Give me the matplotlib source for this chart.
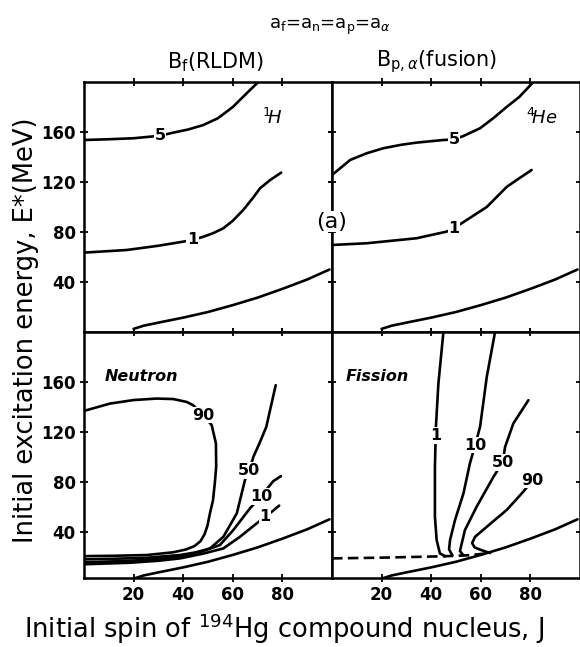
#!/usr/bin/env python3

import matplotlib
matplotlib.use('Agg')
import matplotlib.pyplot as plt

################################################################################

# yrast-like boundary, drawn in every panel
yrast_J = [20, 24, 30, 40, 50, 60, 70, 80, 90, 99]
yrast_E = [2.5, 5, 7.5, 11.5, 16, 21.5, 27.5, 34.5, 42, 50]

# upper left, 1H
h5_J = [0, 10, 20, 30.6, 36, 42, 48, 54, 60, 65.6, 70.3, 71]
h5_E = [153.6, 154.2, 155, 157, 159.5, 162, 165.5, 171, 180, 191, 200, 202]
h1_J = [0, 17.2, 30, 40, 43.8, 48.1, 52, 56.2, 60, 64.2, 68, 71, 75, 79.5]
h1_E = [63.5, 65.6, 69, 72.3, 73.6, 76.2, 79, 83, 89, 97.6, 107, 115, 121.5, 127.5]

# upper right, 4He
he5_J = [0, 3, 7.3, 14, 20.7, 28, 34.1, 44.9, 49.2, 53, 59.7, 65, 70.4, 75.5, 81.2, 82]
he5_E = [125.6, 130.5, 137.6, 143, 147, 149.8, 151.5, 153.6, 154, 156.8, 163, 171, 180, 188, 200, 202]
he1_J = [0, 14, 34.1, 46.2, 49.2, 54.3, 62.4, 70.4, 75.5, 80.5]
he1_E = [69.6, 71, 75, 80.3, 83, 89.6, 100, 116, 123, 129.6]

# lower left, neutron
n90_J = [0, 10.5, 20, 29.3, 36, 41.4, 44, 48.1, 51.5, 53.2, 53.3, 52.8, 52, 50.8, 49.8, 48.6, 47, 44.5, 41, 36, 25.3, 12, 0]
n90_E = [136.8, 142.7, 145.5, 146.7, 146.3, 144, 141.4, 133.4, 125.4, 110.7, 92, 80, 65, 55, 45, 38, 32.5, 28.5, 25.8, 23.6, 21.4, 20.8, 20.5]
n50_J = [0, 12, 25.3, 38.7, 45, 50.8, 56.2, 61.6, 64.9, 66.6, 68.3, 71, 73.5, 77.3]
n50_E = [17.9, 18.4, 19.2, 21.4, 23.5, 26.7, 36, 54.7, 81.4, 89, 100, 112, 124, 157.4]
n10_J = [0, 18.5, 30, 38.7, 48, 54.8, 60.2, 66.9, 71.4, 76.3, 79.4]
n10_E = [15.5, 16.8, 18.3, 20, 24.5, 29.4, 41.4, 58.7, 68.5, 80.5, 84.6]
n1_J = [0, 18.5, 30, 38.7, 48, 56.2, 62.9, 69.6, 73, 76, 78.7]
n1_E = [14, 15.2, 16.8, 18.7, 22.5, 26.7, 36, 46.7, 52, 56.5, 61]

# lower right, fission
f1_J = [45.6, 43.5, 42.2, 41.5, 41.5, 41.9, 42.9, 44.9, 45]
f1_E = [20.5, 22.7, 33.4, 52, 92, 124, 158.7, 199.5, 202]
f10_J = [48.5, 47.2, 47.6, 49.6, 53, 55.6, 57.7, 59.7, 62.4, 65.7, 65.9]
f10_E = [21.2, 26, 33.4, 49.4, 70.7, 94.7, 109.4, 124, 164, 199.5, 202]
f50_J = [52.9, 51.6, 52, 53.6, 58.3, 65.1, 68.8, 69.8, 73.1, 79.2]
f50_E = [21.4, 24.5, 28, 41.4, 60, 84, 95.5, 108, 126.7, 145.4]
f90_J = [63.7, 60, 57.5, 56.5, 57.7, 62.4, 70.4, 77.1, 80.9]
f90_E = [23, 25.5, 27.5, 31, 36, 44, 57.4, 72, 81.4]
fdash_J = [0, 20, 45, 55, 62.4]
fdash_E = [18.7, 19.3, 20.4, 21.2, 22.7]

x_ticks = [20, 40, 60, 80]
y_ticks = [40, 80, 120, 160]

################################################################################

W, H = 580, 647

def rect(x0, y0, x1, y1):
	'''pixel box (top-left origin) to figure fraction'''
	return [x0 / W, 1 - y1 / H, (x1 - x0) / W, (y1 - y0) / H]

def setup(ax, ylim, xlabels, ylabels):
	ax.set_xlim(0, 100)
	ax.set_ylim(*ylim)
	ax.set_xticks(x_ticks)
	ax.set_yticks(y_ticks)
	ax.tick_params(direction = 'inout', length = 6, width = 1.3,
		top = True, bottom = True, left = True, right = True,
		labelbottom = xlabels, labelleft = ylabels,
		labelsize = 12, pad = 3)
	for lab in ax.get_xticklabels() + ax.get_yticklabels():
		lab.set_fontweight('bold')
	for s in ax.spines.values():
		s.set_linewidth(1.8)

def curve(ax, J, E, **kw):
	ax.plot(J, E, color = 'k', linewidth = 1.9, solid_capstyle = 'round', **kw)

def tag(ax, x, y, s):
	ax.text(x, y, s, ha = 'center', va = 'center', fontsize = 11.5, fontweight = 'bold',
		bbox = dict(fc = 'white', ec = 'none', pad = 0.6), zorder = 5)

plt.rcParams['font.family'] = 'DejaVu Sans'
plt.rcParams['mathtext.fontset'] = 'dejavusans'

fig = plt.figure(figsize = (W / 100, H / 100), dpi = 100)
ax_ul = fig.add_axes(rect(84, 82, 332, 332))
ax_ur = fig.add_axes(rect(332, 82, 580, 332))
ax_ll = fig.add_axes(rect(84, 332, 332, 578))
ax_lr = fig.add_axes(rect(332, 332, 580, 578))

setup(ax_ul, (0, 200), False, True)
setup(ax_ur, (0, 200), False, False)
setup(ax_ll, (3, 200), True, True)
setup(ax_lr, (3, 200), True, False)

for ax in [ax_ul, ax_ur, ax_ll, ax_lr]:
	curve(ax, yrast_J, yrast_E)

# upper left
curve(ax_ul, h5_J, h5_E)
curve(ax_ul, h1_J, h1_E)
tag(ax_ul, 30.6, 157, '5')
tag(ax_ul, 43.8, 73.6, '1')
ax_ul.text(75.8, 171, r'$^{1}\!\mathit{H}$', fontsize = 13, ha = 'center', va = 'center')

# upper right
curve(ax_ur, he5_J, he5_E)
curve(ax_ur, he1_J, he1_E)
tag(ax_ur, 49.2, 154, '5')
tag(ax_ur, 49.2, 83, '1')
ax_ur.text(84.5, 171, r'$^{4}\!\mathit{He}$', fontsize = 13, ha = 'center', va = 'center')

# lower left
curve(ax_ll, n90_J, n90_E)
curve(ax_ll, n50_J, n50_E)
curve(ax_ll, n10_J, n10_E)
curve(ax_ll, n1_J, n1_E)
tag(ax_ll, 48.1, 133.4, '90')
tag(ax_ll, 66.6, 89, '50')
tag(ax_ll, 71.4, 68.5, '10')
tag(ax_ll, 73, 52, '1')
ax_ll.text(8.5, 164.5, 'Neutron', fontsize = 11.5, fontweight = 'bold', style = 'italic',
	ha = 'left', va = 'center')

# lower right
curve(ax_lr, f1_J, f1_E)
curve(ax_lr, f10_J, f10_E)
curve(ax_lr, f50_J, f50_E)
curve(ax_lr, f90_J, f90_E)
ax_lr.plot(fdash_J, fdash_E, color = 'k', linewidth = 1.9, dashes = (4, 2))
tag(ax_lr, 41.7, 117, '1')
tag(ax_lr, 57.7, 109.4, '10')
tag(ax_lr, 68.8, 95.5, '50')
tag(ax_lr, 80.9, 81.4, '90')
ax_lr.text(5.5, 164, 'Fission', fontsize = 11.5, fontweight = 'bold', style = 'italic',
	ha = 'left', va = 'center')

# titles and axis labels
fig.text(330 / W, 1 - 27 / H, r'a$_\mathrm{f}$=a$_\mathrm{n}$=a$_\mathrm{p}$=a$_\alpha$',
	fontsize = 13, ha = 'center', va = 'center')
fig.text(215 / W, 1 - 62 / H, r'B$_\mathrm{f}$(RLDM)', fontsize = 15, ha = 'center', va = 'center')
fig.text(437 / W, 1 - 62 / H, r'B$_{\mathrm{p},\alpha}$(fusion)', fontsize = 15, ha = 'center', va = 'center')
fig.text(332 / W, 1 - 221.7 / H, '(a)', fontsize = 16, ha = 'center', va = 'center',
	bbox = dict(fc = 'white', ec = 'none', pad = 0.5), zorder = 10)
fig.text(26 / W, 1 - 330 / H, 'Initial excitation energy, E*(MeV)', fontsize = 18.5,
	rotation = 90, ha = 'center', va = 'center')
fig.text(284 / W, 1 - 629 / H, r'Initial spin of $^{194}$Hg compound nucleus, J', fontsize = 18.5,
	ha = 'center', va = 'center')

fig.savefig('out.png', dpi = 100)
